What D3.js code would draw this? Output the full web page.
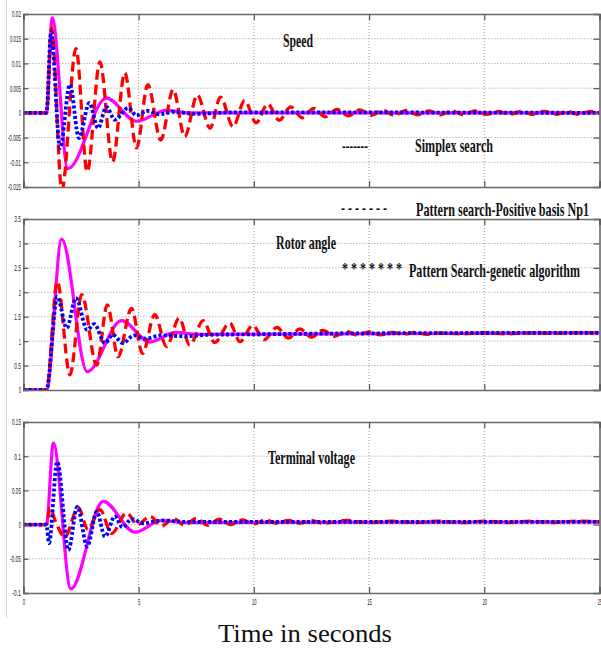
<!DOCTYPE html>
<html>
<head>
<meta charset="utf-8">
<script src="https://cdn.jsdelivr.net/npm/d3@7"></script>
<style>
   body { margin: 0; background: #fff; }
   svg { display: block; }
   .tick-label { font-family: "Liberation Sans", Arial, sans-serif; font-size: 9px; fill: #222; }
   .caption { font-family: "Liberation Serif", "Times New Roman", serif; fill: #111; }
</style>
</head>
<body>
<div id="chart"></div>
<script>
// ---- data: [time in s, value] ----
const speedSimplex = [[0,0],[1,0],[1.25,0.0192],[1.93,-0.0113],[3.6,0.003],[4.9,-0.0017],[6.2,0.0005],[7.2,0],[25,0]];
const speedPattern = [[0,0],[1,0],[1.22,0.0172],[1.67,-0.0156],[2.28,0.013],[2.77,-0.0119],[3.32,0.0103],[3.87,-0.0099],[4.4,0.0081],[4.91,-0.0071],[5.4,0.0057],[5.96,-0.0055],[6.5,0.0047],[7.0,-0.0048],[7.55,0.0036],[8.1,-0.0031],[8.55,0.0032],[9.1,-0.0028],[9.6,0.0025],[10.1,-0.002],[10.6,0.0018],[11.1,-0.0015],[11.6,0.0012],[12.1,-0.001],[12.6,0.0009],[13.1,-0.0008],[13.6,0.0007],[14.1,-0.0006],[14.6,0.0006],[15.1,-0.0005],[15.6,0.0005],[16.1,-0.0005],[16.6,0.0005],[17.1,-0.0004],[17.6,0.0004],[18.1,-0.0004],[18.6,0.0004],[19.1,-0.0004],[19.6,0.0004],[20.1,-0.0003],[20.6,0.0003],[21.1,-0.0003],[21.6,0.0003],[22.1,-0.0003],[22.6,0.0003],[23.1,-0.0003],[23.6,0.0003],[24.1,-0.0003],[24.6,0.0003],[25,0]];
const speedGenetic = [[0,0],[1,0],[1.2,0.0164],[1.59,-0.0071],[2.02,0.0057],[2.41,-0.0051],[2.86,0.002],[3.24,-0.0031],[3.6,0.0012],[3.97,-0.0014],[4.55,0.001],[4.9,-0.0005],[5.4,0.0004],[5.9,-0.0003],[6.5,0.0002],[7.5,-0.0002],[9,0.0001],[25,0]];

const rotorSimplex = [[0,0],[1,0],[1.66,3.09],[2.77,0.375],[4.26,1.42],[5.49,0.98],[6.6,1.18],[7.6,1.14],[25,1.17]];
const rotorPattern = [[0,0],[1,0],[1.47,2.22],[2.02,0.31],[2.53,1.95],[3.18,0.51],[3.64,1.74],[4.11,0.68],[4.69,1.67],[5.17,0.75],[5.7,1.54],[6.21,0.89],[6.76,1.47],[7.22,0.92],[7.8,1.42],[8.3,0.97],[8.95,1.37],[9.4,0.99],[9.95,1.32],[10.45,1.03],[11.0,1.28],[11.5,1.06],[12.0,1.25],[12.5,1.08],[13,1.22],[13.5,1.1],[14,1.2],[14.5,1.12],[15,1.19],[15.5,1.13],[16,1.18],[16.5,1.14],[17,1.18],[17.5,1.14],[18,1.17],[19,1.15],[20,1.17],[21,1.15],[22,1.17],[23,1.16],[24,1.17],[25,1.17]];
const rotorGenetic = [[0,0],[1,0],[1.47,1.91],[1.88,1.27],[2.28,1.88],[2.77,1.23],[3.07,1.35],[3.54,0.96],[3.88,1.13],[4.32,0.96],[4.8,1.12],[5.3,1.05],[6,1.12],[7,1.1],[8,1.13],[10,1.14],[15,1.16],[25,1.17]];

const voltSimplex = [[0,0],[1,0],[1.3,0.119],[2.06,-0.094],[3.46,0.034],[4.84,-0.011],[6.0,0.006],[7,0.003],[25,0.004]];
const voltPattern = [[0,0],[1,0],[1.15,0.024],[1.4,0.004],[1.8,-0.018],[2.38,0.025],[2.8,-0.007],[3.32,0.022],[3.83,-0.013],[4.48,0.017],[4.95,0.0],[5.5,0.012],[6.0,-0.002],[6.5,0.009],[7.0,-0.001],[7.5,0.009],[8.0,-0.001],[8.5,0.008],[9.0,0.0],[9.5,0.007],[10.0,0.001],[10.5,0.007],[11,0.002],[11.5,0.006],[12,0.002],[12.5,0.006],[13,0.002],[14,0.006],[15,0.003],[16,0.005],[17,0.003],[18,0.005],[19,0.003],[20,0.005],[21,0.003],[22,0.005],[23,0.003],[24,0.005],[25,0.004]];
const voltGenetic = [[0,0],[1,0],[1.11,-0.027],[1.47,0.092],[1.95,-0.037],[2.34,0.026],[2.77,-0.032],[3.18,0.019],[3.54,-0.0175],[3.97,0.012],[4.3,-0.004],[4.7,0.008],[5.2,0.002],[6,0.006],[7,0.004],[25,0.004]];

// ---- ticks ----
const timeTicks = [0, 5, 10, 15, 20, 25];
const speedTicks = [-0.015, -0.01, -0.005, 0, 0.005, 0.01, 0.015, 0.02];
const rotorTicks = [0, 0.5, 1, 1.5, 2, 2.5, 3, 3.5];
const voltTicks = [-0.1, -0.05, 0, 0.05, 0.1, 0.15];

const width = 601, height = 649;
const left = 23.4, right = 599.5;

const svg = d3.select("#chart").append("svg")
   .attr("width", width)
   .attr("height", height);

const x = d3.scaleLinear().domain([0, 25]).range([left, right]);

// line styles per method: simplex, pattern search, genetic
const styles = [
   { color: "#ff00ff", width: 3.2, dash: null },
   { color: "#ff0000", width: 3.3, dash: "10,5" },
   { color: "#0000ff", width: 3.8, dash: "3,2.2" }
];

const panels = [
   { id: "speed", top: 14, bottom: 187, domain: [-0.015, 0.02], ticks: speedTicks, series: [speedSimplex, speedPattern, speedGenetic], xLabels: false },
   { id: "rotor", top: 219, bottom: 390, domain: [0, 3.5], ticks: rotorTicks, series: [rotorSimplex, rotorPattern, rotorGenetic], xLabels: false },
   { id: "volt", top: 422, bottom: 593, domain: [-0.1, 0.15], ticks: voltTicks, series: [voltSimplex, voltPattern, voltGenetic], xLabels: true }
];

// faint figure border on the left
svg.append("line")
   .attr("x1", 6.5).attr("x2", 6.5).attr("y1", 0).attr("y2", 618)
   .attr("stroke", "#d4d4d4").attr("stroke-width", 1);

const squeeze = (sel, perChar) => sel.each(function () {
   const t = d3.select(this);
   t.attr("textLength", t.text().length * perChar).attr("lengthAdjust", "spacingAndGlyphs");
});

panels.forEach(p => {
   const y = d3.scaleLinear().domain(p.domain).range([p.bottom, p.top]);
   const g = svg.append("g").attr("class", "panel-" + p.id);

   // Clip path for the curves
   g.append("clipPath").attr("id", "clip-" + p.id)
      .append("rect")
      .attr("x", left).attr("y", p.top)
      .attr("width", right - left).attr("height", p.bottom - p.top);

   // Dotted grid
   g.selectAll(".hgrid").data(p.ticks.slice(1, -1)).enter()
      .append("line")
      .attr("x1", left).attr("x2", right)
      .attr("y1", d => y(d)).attr("y2", d => y(d))
      .attr("stroke", "#999").attr("stroke-width", 1).attr("stroke-dasharray", "1,2");
   g.selectAll(".vgrid").data(timeTicks.slice(1, -1)).enter()
      .append("line")
      .attr("x1", d => x(d)).attr("x2", d => x(d))
      .attr("y1", p.top).attr("y2", p.bottom)
      .attr("stroke", "#999").attr("stroke-width", 1).attr("stroke-dasharray", "1,2");

   // Curves
   const line = d3.line()
      .x(d => x(d[0]))
      .y(d => y(d[1]))
      .curve(d3.curveMonotoneX);
   const curves = g.append("g").attr("clip-path", "url(#clip-" + p.id + ")");
   p.series.forEach((s, i) => {
      curves.append("path")
         .datum(s)
         .attr("d", line)
         .attr("fill", "none")
         .attr("stroke", styles[i].color)
         .attr("stroke-width", styles[i].width)
         .attr("stroke-linejoin", "round")
         .attr("stroke-dasharray", styles[i].dash);
   });

   // Axes (inward ticks on all four sides)
   const yLeft = d3.axisLeft(y).tickValues(p.ticks).tickSize(-5).tickPadding(2.5)
      .tickFormat(d => String(+d.toFixed(3)));
   const yRight = d3.axisRight(y).tickValues(p.ticks).tickSize(-6).tickFormat("");
   const xBottom = d3.axisBottom(x).tickValues(timeTicks).tickSize(-6).tickPadding(5.5)
      .tickFormat(p.xLabels ? d3.format("d") : "");
   const xTop = d3.axisTop(x).tickValues(timeTicks).tickSize(-6).tickFormat("");

   const gl = g.append("g").attr("transform", "translate(" + left + ",0)").call(yLeft);
   g.append("g").attr("transform", "translate(" + right + ",0)").call(yRight);
   const gb = g.append("g").attr("transform", "translate(0," + p.bottom + ")").call(xBottom);
   g.append("g").attr("transform", "translate(0," + p.top + ")").call(xTop);

   g.selectAll(".domain").attr("stroke", "#6a6a6a").attr("stroke-width", 1.6);
   g.selectAll(".tick line").attr("stroke", "#555").attr("stroke-width", 1.2);
   g.selectAll(".tick text").attr("class", "tick-label").attr("fill", "#222");
   squeeze(gl.selectAll(".tick text"), 2.2);
   squeeze(gb.selectAll(".tick text"), 2.3);
});

// Panel titles and legend text
const captions = [
   { text: "Speed", x: 283, y: 47, size: 18, len: 30, weight: "bold" },
   { text: "-------", x: 342, y: 152, size: 19, len: 26, weight: "bold" },
   { text: "Simplex search", x: 415, y: 152, size: 19, len: 78, weight: "bold" },
   { text: "- - - - - - -", x: 341, y: 214, size: 19, len: 46, weight: "bold" },
   { text: "Pattern search-Positive basis Np1", x: 416, y: 216, size: 19, len: 173, weight: "bold" },
   { text: "Rotor angle", x: 276, y: 249, size: 18, len: 60, weight: "bold" },
   { text: "* * * * * * *", x: 342, y: 274, size: 17, len: 60, weight: "bold" },
   { text: "Pattern Search-genetic algorithm", x: 409, y: 277, size: 19, len: 171, weight: "bold" },
   { text: "Terminal voltage", x: 268, y: 464, size: 18, len: 87, weight: "bold" },
   { text: "Time in seconds", x: 218, y: 642, size: 26, len: 174, weight: "normal" }
];

svg.selectAll(".caption").data(captions).enter()
   .append("text")
   .attr("class", "caption")
   .attr("x", d => d.x)
   .attr("y", d => d.y)
   .attr("font-size", d => d.size)
   .attr("font-weight", d => d.weight)
   .attr("textLength", d => d.len)
   .attr("lengthAdjust", "spacingAndGlyphs")
   .text(d => d.text);
</script>
</body>
</html>
